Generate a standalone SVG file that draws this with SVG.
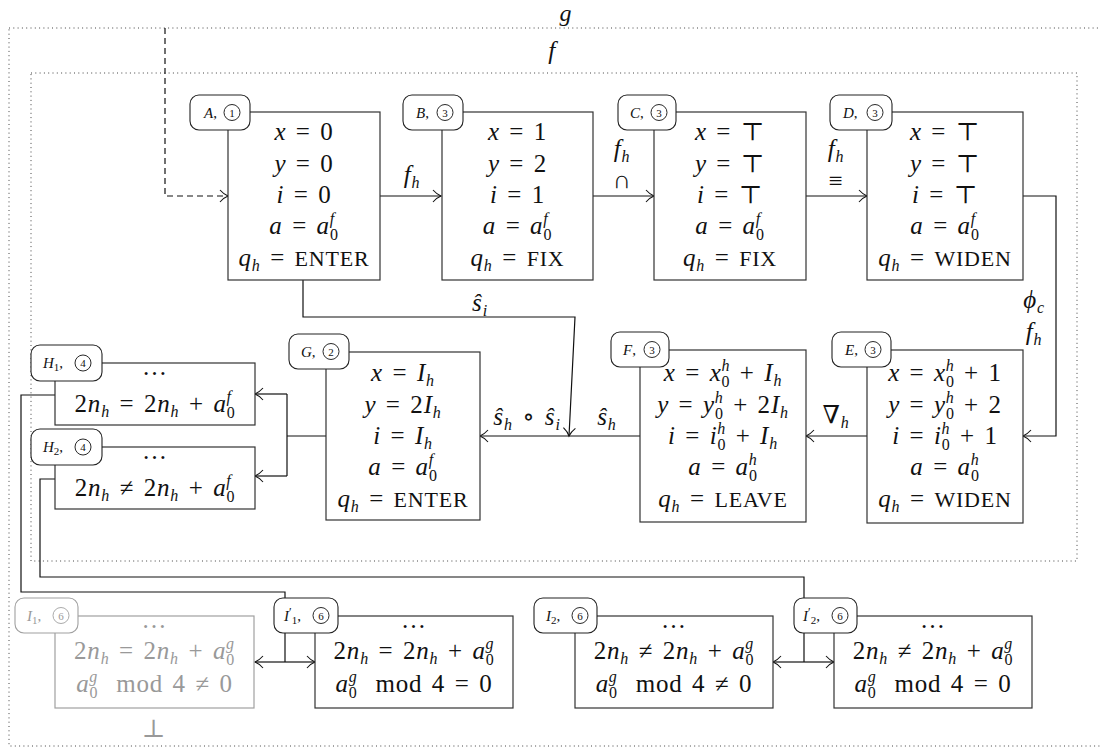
<svg xmlns="http://www.w3.org/2000/svg" width="1101" height="751" viewBox="0 0 1101 751">
<style>
.t{font-family:"Liberation Serif","DejaVu Serif",serif;font-size:25px;fill:#111;text-anchor:middle;letter-spacing:0.8px;word-spacing:2.5px}
.i{font-style:italic}
.s{font-size:16px}
.k{font-size:22px}
.tg{font-family:"Liberation Serif","DejaVu Serif",serif;font-size:15px;fill:#111}
.sb{font-size:11px}
.pr{font-size:12px}
.cd{font-family:"Liberation Serif","DejaVu Serif",serif;font-size:11px;fill:#111;text-anchor:middle}
.cc{fill:none;stroke:#111;stroke-width:0.9}
.bx{fill:#fff;stroke:#333;stroke-width:1.2}
.tr{fill:#fff;stroke:#222;stroke-width:1.1}
.gr .bx,.gr .tr,.gr .cc{stroke:#a0a0a0}
.gr .t,.gr .tg,.gr .cd{fill:#999}
.ln{fill:none;stroke:#111;stroke-width:1.2}
.ar{marker-end:url(#ah)}
.dt{fill:none;stroke:#444;stroke-width:1;stroke-dasharray:1 3.3}
</style>
<defs>
<marker id="ah" markerWidth="12" markerHeight="14" refX="10" refY="7" orient="auto" markerUnits="userSpaceOnUse" viewBox="0 0 12 14">
<path d="M2,1 Q6,5.5 10,7 Q6,8.5 2,13" fill="none" stroke="#111" stroke-width="1.1"/>
</marker>
</defs>
<rect width="1101" height="751" fill="#fff"/>

<g id="frames">
<rect class="dt" x="9" y="28" width="1115" height="718"/>
<rect class="dt" x="31" y="73" width="1046" height="488"/>
<text class="t i" x="566" y="21" style="font-size:24px">g</text>
<text class="t i" x="552" y="59">f</text>
</g>

<g id="connectors">
<path class="ln ar" d="M165,28 V196 H228" stroke-dasharray="6 4"/>
<path class="ln ar" d="M380,196 H441"/>
<text class="t" x="412" y="183"><tspan class="i">f</tspan><tspan class="s i" dy="5">h</tspan></text>
<path class="ln ar" d="M593,196 H654"/>
<text class="t" x="622" y="157"><tspan class="i">f</tspan><tspan class="s i" dy="5">h</tspan></text>
<text class="t" x="622" y="188">∩</text>
<path class="ln ar" d="M806,196 H867"/>
<text class="t" x="836" y="157"><tspan class="i">f</tspan><tspan class="s i" dy="5">h</tspan></text>
<text class="t" x="836" y="189">≡</text>
<path class="ln ar" d="M1023,196 H1056 V436 H1023"/>
<text class="t" x="1034" y="308"><tspan class="i">ϕ</tspan><tspan class="s i" dy="5">c</tspan></text>
<text class="t" x="1034" y="340"><tspan class="i">f</tspan><tspan class="s i" dy="5">h</tspan></text>
<path class="ln ar" d="M867,436 H806"/>
<text class="t" x="836" y="423">∇<tspan class="s i" dy="5">h</tspan></text>
<path class="ln ar" d="M640,436 H480"/>
<text class="t" x="607" y="425"><tspan class="i">ŝ</tspan><tspan class="s i" dy="5">h</tspan></text>
<text class="t" x="527" y="425"><tspan class="i">ŝ</tspan><tspan class="s i" dy="5">h</tspan><tspan dy="-5"> ∘ </tspan><tspan class="i">ŝ</tspan><tspan class="s i" dy="5">i</tspan></text>
<path class="ln ar" d="M303,280 V317 H575 L569,436"/>
<text class="t" x="480" y="311"><tspan class="i">ŝ</tspan><tspan class="s i" dy="5">i</tspan></text>
<path class="ln" d="M326,436 H287 M287,394 V476"/>
<path class="ln ar" d="M287,394 H255"/>
<path class="ln ar" d="M287,476 H255"/>
<path class="ln" d="M55,395 H21 V592 H285 V662"/>
<path class="ln ar" d="M285,662 H255"/>
<path class="ln ar" d="M285,662 H315"/>
<path class="ln" d="M55,479 H40 V577 H804 V662"/>
<path class="ln ar" d="M804,662 H773"/>
<path class="ln ar" d="M804,662 H834"/>
</g>

<g id="nA">
<rect class="bx" x="228" y="112" width="152" height="168"/>
<text class="t" x="304" y="140"><tspan class="i">x</tspan> = 0</text>
<text class="t" x="304" y="172"><tspan class="i">y</tspan> = 0</text>
<text class="t" x="304" y="203"><tspan class="i">i</tspan> = 0</text>
<text class="t" x="304" y="234"><tspan class="i">a</tspan> = <tspan class="i">a</tspan><tspan class="s" dy="6">0</tspan><tspan class="s i" dx="-9" dy="-16">f</tspan></text>
<text class="t" x="304" y="266"><tspan class="i">q</tspan><tspan class="s i" dy="5">h</tspan><tspan dy="-5"> = </tspan><tspan class="k">ENTER</tspan></text>
<rect class="tr" x="190" y="95" width="60" height="35" rx="9"/>
<text class="tg" x="204" y="117.5"><tspan class="i">A</tspan>,</text>
<circle class="cc" cx="232" cy="112.5" r="8"/>
<text class="cd" x="232" y="116.5">1</text>
</g>

<g id="nB">
<rect class="bx" x="442" y="112" width="151" height="168"/>
<text class="t" x="517.5" y="140"><tspan class="i">x</tspan> = 1</text>
<text class="t" x="517.5" y="172"><tspan class="i">y</tspan> = 2</text>
<text class="t" x="517.5" y="203"><tspan class="i">i</tspan> = 1</text>
<text class="t" x="517.5" y="234"><tspan class="i">a</tspan> = <tspan class="i">a</tspan><tspan class="s" dy="6">0</tspan><tspan class="s i" dx="-9" dy="-16">f</tspan></text>
<text class="t" x="517.5" y="266"><tspan class="i">q</tspan><tspan class="s i" dy="5">h</tspan><tspan dy="-5"> = </tspan><tspan class="k">FIX</tspan></text>
<rect class="tr" x="403" y="95" width="60" height="35" rx="9"/>
<text class="tg" x="416" y="117.5"><tspan class="i">B</tspan>,</text>
<circle class="cc" cx="445" cy="112.5" r="8"/>
<text class="cd" x="445" y="116.5">3</text>
</g>

<g id="nC">
<rect class="bx" x="654" y="112" width="152" height="168"/>
<text class="t" x="730" y="140"><tspan class="i">x</tspan> = ⊤</text>
<text class="t" x="730" y="172"><tspan class="i">y</tspan> = ⊤</text>
<text class="t" x="730" y="203"><tspan class="i">i</tspan> = ⊤</text>
<text class="t" x="730" y="234"><tspan class="i">a</tspan> = <tspan class="i">a</tspan><tspan class="s" dy="6">0</tspan><tspan class="s i" dx="-9" dy="-16">f</tspan></text>
<text class="t" x="730" y="266"><tspan class="i">q</tspan><tspan class="s i" dy="5">h</tspan><tspan dy="-5"> = </tspan><tspan class="k">FIX</tspan></text>
<rect class="tr" x="618" y="95" width="58" height="35" rx="9"/>
<text class="tg" x="630" y="117.5"><tspan class="i">C</tspan>,</text>
<circle class="cc" cx="659" cy="112.5" r="8"/>
<text class="cd" x="659" y="116.5">3</text>
</g>

<g id="nD">
<rect class="bx" x="867" y="112" width="156" height="168"/>
<text class="t" x="945" y="140"><tspan class="i">x</tspan> = ⊤</text>
<text class="t" x="945" y="172"><tspan class="i">y</tspan> = ⊤</text>
<text class="t" x="945" y="203"><tspan class="i">i</tspan> = ⊤</text>
<text class="t" x="945" y="234"><tspan class="i">a</tspan> = <tspan class="i">a</tspan><tspan class="s" dy="6">0</tspan><tspan class="s i" dx="-9" dy="-16">f</tspan></text>
<text class="t" x="945" y="266"><tspan class="i">q</tspan><tspan class="s i" dy="5">h</tspan><tspan dy="-5"> = </tspan><tspan class="k">WIDEN</tspan></text>
<rect class="tr" x="830" y="95" width="62" height="35" rx="9"/>
<text class="tg" x="843" y="117.5"><tspan class="i">D</tspan>,</text>
<circle class="cc" cx="875" cy="112.5" r="8"/>
<text class="cd" x="875" y="116.5">3</text>
</g>

<g id="nE">
<rect class="bx" x="867" y="350" width="156" height="173"/>
<text class="t" x="945" y="381"><tspan class="i">x</tspan> = <tspan class="i">x</tspan><tspan class="s" dy="6">0</tspan><tspan class="s i" dx="-9" dy="-16">h</tspan><tspan dy="10"> + 1</tspan></text>
<text class="t" x="945" y="413"><tspan class="i">y</tspan> = <tspan class="i">y</tspan><tspan class="s" dy="6">0</tspan><tspan class="s i" dx="-9" dy="-16">h</tspan><tspan dy="10"> + 2</tspan></text>
<text class="t" x="945" y="444"><tspan class="i">i</tspan> = <tspan class="i">i</tspan><tspan class="s" dy="6">0</tspan><tspan class="s i" dx="-9" dy="-16">h</tspan><tspan dy="10"> + 1</tspan></text>
<text class="t" x="945" y="475"><tspan class="i">a</tspan> = <tspan class="i">a</tspan><tspan class="s" dy="6">0</tspan><tspan class="s i" dx="-9" dy="-16">h</tspan></text>
<text class="t" x="945" y="507"><tspan class="i">q</tspan><tspan class="s i" dy="5">h</tspan><tspan dy="-5"> = </tspan><tspan class="k">WIDEN</tspan></text>
<rect class="tr" x="832" y="332" width="59" height="35" rx="9"/>
<text class="tg" x="845" y="354.5"><tspan class="i">E</tspan>,</text>
<circle class="cc" cx="873" cy="349.5" r="8"/>
<text class="cd" x="873" y="353.5">3</text>
</g>

<g id="nF">
<rect class="bx" x="640" y="350" width="166" height="172"/>
<text class="t" x="723" y="381"><tspan class="i">x</tspan> = <tspan class="i">x</tspan><tspan class="s" dy="6">0</tspan><tspan class="s i" dx="-9" dy="-16">h</tspan><tspan dy="10"> + </tspan><tspan class="i">I</tspan><tspan class="s i" dy="5">h</tspan></text>
<text class="t" x="723" y="413"><tspan class="i">y</tspan> = <tspan class="i">y</tspan><tspan class="s" dy="6">0</tspan><tspan class="s i" dx="-9" dy="-16">h</tspan><tspan dy="10"> + 2</tspan><tspan class="i">I</tspan><tspan class="s i" dy="5">h</tspan></text>
<text class="t" x="723" y="444"><tspan class="i">i</tspan> = <tspan class="i">i</tspan><tspan class="s" dy="6">0</tspan><tspan class="s i" dx="-9" dy="-16">h</tspan><tspan dy="10"> + </tspan><tspan class="i">I</tspan><tspan class="s i" dy="5">h</tspan></text>
<text class="t" x="723" y="475"><tspan class="i">a</tspan> = <tspan class="i">a</tspan><tspan class="s" dy="6">0</tspan><tspan class="s i" dx="-9" dy="-16">h</tspan></text>
<text class="t" x="723" y="507"><tspan class="i">q</tspan><tspan class="s i" dy="5">h</tspan><tspan dy="-5"> = </tspan><tspan class="k">LEAVE</tspan></text>
<rect class="tr" x="611" y="332" width="58" height="35" rx="9"/>
<text class="tg" x="623" y="354.5"><tspan class="i">F</tspan>,</text>
<circle class="cc" cx="652" cy="349.5" r="8"/>
<text class="cd" x="652" y="353.5">3</text>
</g>

<g id="nG">
<rect class="bx" x="326" y="352" width="154" height="168"/>
<text class="t" x="403" y="381"><tspan class="i">x</tspan> = <tspan class="i">I</tspan><tspan class="s i" dy="5">h</tspan></text>
<text class="t" x="403" y="413"><tspan class="i">y</tspan> = 2<tspan class="i">I</tspan><tspan class="s i" dy="5">h</tspan></text>
<text class="t" x="403" y="444"><tspan class="i">i</tspan> = <tspan class="i">I</tspan><tspan class="s i" dy="5">h</tspan></text>
<text class="t" x="403" y="475"><tspan class="i">a</tspan> = <tspan class="i">a</tspan><tspan class="s" dy="6">0</tspan><tspan class="s i" dx="-9" dy="-16">f</tspan></text>
<text class="t" x="403" y="507"><tspan class="i">q</tspan><tspan class="s i" dy="5">h</tspan><tspan dy="-5"> = </tspan><tspan class="k">ENTER</tspan></text>
<rect class="tr" x="289" y="334" width="60" height="35" rx="9"/>
<text class="tg" x="301" y="356.5"><tspan class="i">G</tspan>,</text>
<circle class="cc" cx="331" cy="351.5" r="8"/>
<text class="cd" x="331" y="355.5">2</text>
</g>

<g id="nH1">
<rect class="bx" x="55" y="363" width="200" height="62"/>
<text class="t" x="155" y="375">…</text>
<text class="t" x="155" y="412">2<tspan class="i">n</tspan><tspan class="s i" dy="5">h</tspan><tspan dy="-5"> = 2</tspan><tspan class="i">n</tspan><tspan class="s i" dy="5">h</tspan><tspan dy="-5"> + </tspan><tspan class="i">a</tspan><tspan class="s" dy="6">0</tspan><tspan class="s i" dx="-9" dy="-16">f</tspan></text>
<rect class="tr" x="31" y="345" width="71" height="36" rx="9"/>
<text class="tg" x="43" y="367.5"><tspan class="i">H</tspan><tspan class="sb" dy="3">1</tspan><tspan dy="-3">,</tspan></text>
<circle class="cc" cx="83" cy="363" r="8"/>
<text class="cd" x="83" y="367">4</text>
</g>

<g id="nH2">
<rect class="bx" x="55" y="447" width="200" height="62"/>
<text class="t" x="155" y="459">…</text>
<text class="t" x="155" y="496">2<tspan class="i">n</tspan><tspan class="s i" dy="5">h</tspan><tspan dy="-5"> ≠ 2</tspan><tspan class="i">n</tspan><tspan class="s i" dy="5">h</tspan><tspan dy="-5"> + </tspan><tspan class="i">a</tspan><tspan class="s" dy="6">0</tspan><tspan class="s i" dx="-9" dy="-16">f</tspan></text>
<rect class="tr" x="31" y="429" width="71" height="36" rx="9"/>
<text class="tg" x="43" y="451.5"><tspan class="i">H</tspan><tspan class="sb" dy="3">2</tspan><tspan dy="-3">,</tspan></text>
<circle class="cc" cx="83" cy="447" r="8"/>
<text class="cd" x="83" y="451">4</text>
</g>

<g id="nI1" class="gr">
<rect class="bx" x="55" y="616" width="199" height="92"/>
<text class="t" x="154.5" y="628">…</text>
<text class="t" x="154.5" y="659">2<tspan class="i">n</tspan><tspan class="s i" dy="5">h</tspan><tspan dy="-5"> = 2</tspan><tspan class="i">n</tspan><tspan class="s i" dy="5">h</tspan><tspan dy="-5"> + </tspan><tspan class="i">a</tspan><tspan class="s" dy="6">0</tspan><tspan class="s i" dx="-9" dy="-16">g</tspan></text>
<text class="t" x="154.5" y="692"><tspan class="i">a</tspan><tspan class="s" dy="6">0</tspan><tspan class="s i" dx="-9" dy="-16">g</tspan><tspan dy="10" dx="18">mod 4 ≠ 0</tspan></text>
<text class="t" x="154" y="737">⊥</text>
<rect class="tr" x="15" y="598" width="63" height="35" rx="9"/>
<text class="tg" x="27" y="620.5"><tspan class="i">I</tspan><tspan class="sb" dy="3">1</tspan><tspan dy="-3">,</tspan></text>
<circle class="cc" cx="61" cy="615.5" r="8"/>
<text class="cd" x="61" y="619.5">6</text>
</g>

<g id="nI1p">
<rect class="bx" x="315" y="616" width="198" height="92"/>
<text class="t" x="414" y="628">…</text>
<text class="t" x="414" y="659">2<tspan class="i">n</tspan><tspan class="s i" dy="5">h</tspan><tspan dy="-5"> = 2</tspan><tspan class="i">n</tspan><tspan class="s i" dy="5">h</tspan><tspan dy="-5"> + </tspan><tspan class="i">a</tspan><tspan class="s" dy="6">0</tspan><tspan class="s i" dx="-9" dy="-16">g</tspan></text>
<text class="t" x="414" y="692"><tspan class="i">a</tspan><tspan class="s" dy="6">0</tspan><tspan class="s i" dx="-9" dy="-16">g</tspan><tspan dy="10" dx="18">mod 4 = 0</tspan></text>
<rect class="tr" x="274" y="598" width="64" height="35" rx="9"/>
<text class="tg" x="284" y="620.5"><tspan class="i">I</tspan><tspan class="pr" dy="-5">′</tspan><tspan class="sb" dy="8">1</tspan><tspan dy="-3">,</tspan></text>
<circle class="cc" cx="321" cy="615.5" r="8"/>
<text class="cd" x="321" y="619.5">6</text>
</g>

<g id="nI2">
<rect class="bx" x="575" y="616" width="198" height="92"/>
<text class="t" x="674" y="628">…</text>
<text class="t" x="674" y="659">2<tspan class="i">n</tspan><tspan class="s i" dy="5">h</tspan><tspan dy="-5"> ≠ 2</tspan><tspan class="i">n</tspan><tspan class="s i" dy="5">h</tspan><tspan dy="-5"> + </tspan><tspan class="i">a</tspan><tspan class="s" dy="6">0</tspan><tspan class="s i" dx="-9" dy="-16">g</tspan></text>
<text class="t" x="674" y="692"><tspan class="i">a</tspan><tspan class="s" dy="6">0</tspan><tspan class="s i" dx="-9" dy="-16">g</tspan><tspan dy="10" dx="18">mod 4 ≠ 0</tspan></text>
<rect class="tr" x="534" y="598" width="63" height="35" rx="9"/>
<text class="tg" x="546" y="620.5"><tspan class="i">I</tspan><tspan class="sb" dy="3">2</tspan><tspan dy="-3">,</tspan></text>
<circle class="cc" cx="580" cy="615.5" r="8"/>
<text class="cd" x="580" y="619.5">6</text>
</g>

<g id="nI2p">
<rect class="bx" x="834" y="616" width="198" height="92"/>
<text class="t" x="933" y="628">…</text>
<text class="t" x="933" y="659">2<tspan class="i">n</tspan><tspan class="s i" dy="5">h</tspan><tspan dy="-5"> ≠ 2</tspan><tspan class="i">n</tspan><tspan class="s i" dy="5">h</tspan><tspan dy="-5"> + </tspan><tspan class="i">a</tspan><tspan class="s" dy="6">0</tspan><tspan class="s i" dx="-9" dy="-16">g</tspan></text>
<text class="t" x="933" y="692"><tspan class="i">a</tspan><tspan class="s" dy="6">0</tspan><tspan class="s i" dx="-9" dy="-16">g</tspan><tspan dy="10" dx="18">mod 4 = 0</tspan></text>
<rect class="tr" x="794" y="598" width="63" height="35" rx="9"/>
<text class="tg" x="803" y="620.5"><tspan class="i">I</tspan><tspan class="pr" dy="-5">′</tspan><tspan class="sb" dy="8">2</tspan><tspan dy="-3">,</tspan></text>
<circle class="cc" cx="840" cy="615.5" r="8"/>
<text class="cd" x="840" y="619.5">6</text>
</g>
</svg>
